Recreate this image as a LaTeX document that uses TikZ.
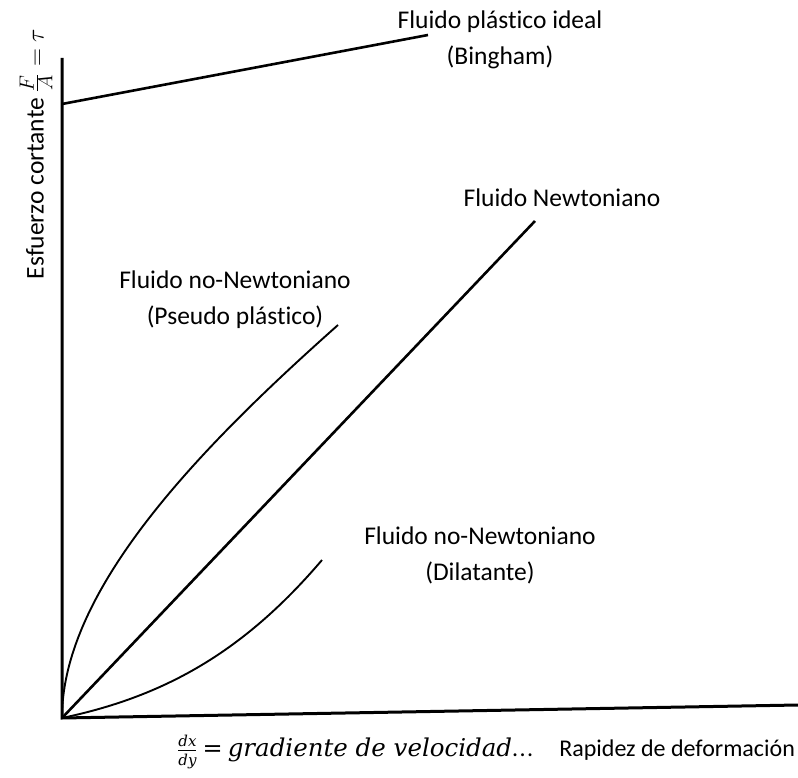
\documentclass[tikz,border=0pt]{standalone}
\usepackage{fontspec}
\setmainfont{Carlito}[Ligatures=NoCommon]
\newfontfamily\serifit{DejaVu Serif}
\usetikzlibrary{positioning}

\newcommand{\fracit}[1]{\mbox{\serifit\itshape\fontsize{15}{16}\selectfont #1}}

\begin{document}
\begin{tikzpicture}[-,x=1pt,y=-1pt]
\tikzstyle{eje}=[line width=3pt]
\tikzstyle{recta}=[line width=2.6pt]
\tikzstyle{curva}=[line width=1.9pt]
\tikzstyle{rotulo}=[align=center,inner sep=0pt,font=\fontsize{25.5}{36}\selectfont]

\useasboundingbox (0,0) rectangle (798,778);

\coordinate (O) at(62,718);
\coordinate (Y) at(62,58);
\coordinate (X) at(798,705);
\coordinate (B0) at(62,104);
\coordinate (B1) at(428,35);
\coordinate (N1) at(535,221);
\coordinate (P1) at(338,325);
\coordinate (D1) at(322,560);

\node [rotulo] (bingham) at(500,40) {Fluido plástico ideal\\(Bingham)};
\node [rotulo] (newton) at(562,198) {Fluido Newtoniano};
\node [rotulo] (pseudo) at(235,300) {Fluido no-Newtoniano\\(Pseudo plástico)};
\node [rotulo] (dilat) at(480,555) {Fluido no-Newtoniano\\(Dilatante)};
\node [rotulo,rotate=90] (ylab) at(36,154) {Esfuerzo cortante {\fontsize{28}{30}\selectfont$\frac{F}{A}=\tau$}};
\node [rotulo,anchor=west,font=\fontsize{24}{28}\selectfont] (xlab) at(177,752)
  {$\frac{\fracit{dx}}{\fracit{dy}}$\hspace{5pt}{\serifit\fontsize{24}{28}\selectfont=\hspace{5pt}\itshape\fontsize{24.5}{28}\selectfont gradiente de velocidad}.\hspace{1.5pt}.\hspace{1.5pt}.\hspace{26pt}Rapidez de deformación};

\draw [eje] (Y) -- (O) -- (X);
\draw [recta] (B0) -- (B1);
\draw [recta] (O) -- (N1);
\draw [curva] (O) .. controls (62,588) and (203,445) .. (P1);
\draw [curva] (O) .. controls (162,697) and (242,654) .. (D1);
\end{tikzpicture}
\end{document}
